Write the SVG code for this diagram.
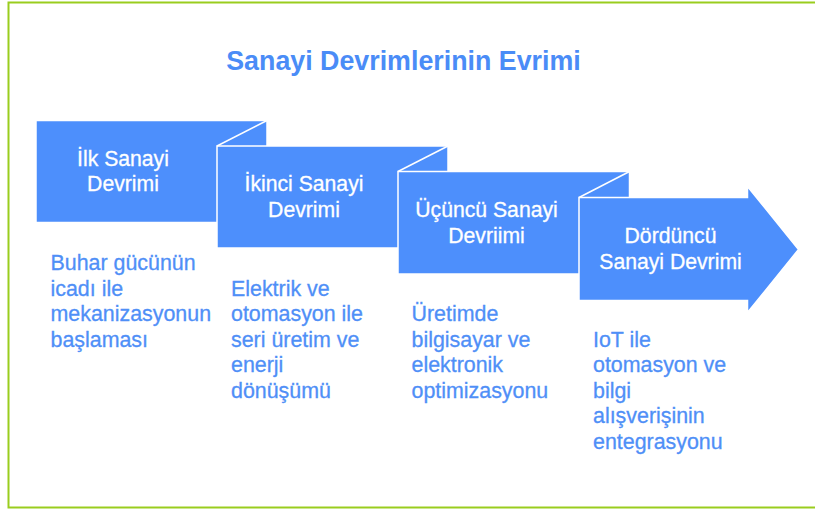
<svg xmlns="http://www.w3.org/2000/svg" width="815" height="509" viewBox="0 0 815 509">
  <style>
    .blk { fill: #4d8ffc; stroke: #ffffff; stroke-width: 1.5; }
    .fold { stroke: #ffffff; stroke-width: 1.5; fill: none; }
    .bt { font-family: "Liberation Sans", Arial, sans-serif; font-size: 21.2px; fill: #ffffff; stroke: #ffffff; stroke-width: 0.3; text-anchor: middle; }
    .dt { font-family: "Liberation Sans", Arial, sans-serif; font-size: 21.4px; fill: #4f8ff7; stroke: #4f8ff7; stroke-width: 0.3; }
    .title { font-family: "Liberation Sans", Arial, sans-serif; font-size: 26.8px; font-weight: bold; fill: #4a8cf7; text-anchor: middle; }
  </style>
  <rect x="0" y="0" width="815" height="509" fill="#ffffff"/>
  <rect x="8.5" y="2.5" width="820" height="505" fill="none" stroke="#9acd1e" stroke-width="2"/>
  <text class="title" x="403.5" y="69.5">Sanayi Devrimlerinin Evrimi</text>

  <g id="node1">
    <rect class="blk" x="36" y="120.5" width="231" height="102"/>
    <text class="bt" x="123" y="165.7">İlk Sanayi</text>
    <text class="bt" x="123" y="191">Devrimi</text>
    <text class="dt" x="50.5" y="270">Buhar gücünün</text>
    <text class="dt" x="50.5" y="295.5">icadı ile</text>
    <text class="dt" x="50.5" y="321">mekanizasyonun</text>
    <text class="dt" x="50.5" y="346.5">başlaması</text>
  </g>
  <g id="node2">
    <rect class="blk" x="217" y="146" width="231" height="102"/>
    <text class="bt" x="304" y="191.3">İkinci Sanayi</text>
    <text class="bt" x="304" y="216.8">Devrimi</text>
    <text class="dt" x="231" y="295.5">Elektrik ve</text>
    <text class="dt" x="231" y="321">otomasyon ile</text>
    <text class="dt" x="231" y="346.5">seri üretim ve</text>
    <text class="dt" x="231" y="372">enerji</text>
    <text class="dt" x="231" y="397.5">dönüşümü</text>
  </g>
  <g id="node3">
    <rect class="blk" x="398" y="171.5" width="231.5" height="102.5"/>
    <text class="bt" x="486.5" y="217.3">Üçüncü Sanayi</text>
    <text class="bt" x="486.5" y="243">Devriimi</text>
    <text class="dt" x="411.5" y="321">Üretimde</text>
    <text class="dt" x="411.5" y="346.5">bilgisayar ve</text>
    <text class="dt" x="411.5" y="372">elektronik</text>
    <text class="dt" x="411.5" y="397.5">optimizasyonu</text>
  </g>
  <g id="node4">
    <polygon class="blk" points="579,197.5 747.5,197.5 747.5,186.5 798.5,249.5 747.5,312.5 747.5,300.5 579,300.5"/>
    <text class="bt" x="670.5" y="243.3">Dördüncü</text>
    <text class="bt" x="670.5" y="268.5">Sanayi Devrimi</text>
    <text class="dt" x="593" y="346.7">IoT ile</text>
    <text class="dt" x="593" y="372.2">otomasyon ve</text>
    <text class="dt" x="593" y="397.7">bilgi</text>
    <text class="dt" x="593" y="423.2">alışverişinin</text>
    <text class="dt" x="593" y="448.7">entegrasyonu</text>
  </g>
  <g id="connectors">
    <line class="fold" x1="267" y1="120.5" x2="217" y2="146"/>
    <line class="fold" x1="448" y1="146" x2="398" y2="171.5"/>
    <line class="fold" x1="629.5" y1="171.5" x2="579" y2="197.5"/>
  </g>
</svg>
